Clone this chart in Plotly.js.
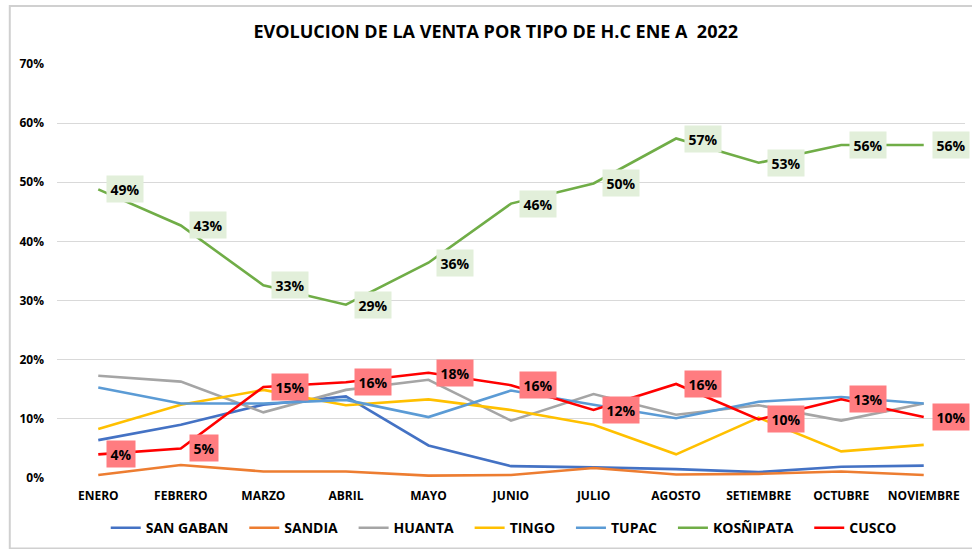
<!DOCTYPE html>
<html>
<head>
<meta charset="utf-8">
<script src="https://cdn.plot.ly/plotly-3.0.1.min.js"></script>
<style>html,body{margin:0;padding:0;background:#fff;}#chart{width:972px;height:549px;}</style>
</head>
<body>
<div id="chart"></div>
<script>
const months = ["ENERO","FEBRERO","MARZO","ABRIL","MAYO","JUNIO","JULIO","AGOSTO","SETIEMBRE","OCTUBRE","NOVIEMBRE"];
const sanGaban  = [0.064,0.090,0.124,0.138,0.055,0.020,0.018,0.015,0.010,0.019,0.021];
const sandia    = [0.005,0.022,0.011,0.011,0.004,0.005,0.017,0.006,0.007,0.011,0.005];
const huanta    = [0.173,0.163,0.111,0.149,0.166,0.097,0.142,0.107,0.123,0.097,0.126];
const tingo     = [0.083,0.124,0.149,0.123,0.133,0.115,0.090,0.040,0.102,0.045,0.056];
const tupac     = [0.153,0.126,0.126,0.132,0.103,0.148,0.124,0.101,0.129,0.137,0.126];
const kosnipata = [0.488,0.427,0.326,0.293,0.364,0.464,0.498,0.574,0.533,0.563,0.563];
const cusco     = [0.040,0.050,0.154,0.162,0.178,0.157,0.115,0.159,0.099,0.133,0.103];
const seriesNames = ["SAN GABAN","SANDIA","HUANTA","TINGO","TUPAC","KOSÑIPATA","CUSCO"];
const seriesData = [sanGaban,sandia,huanta,tingo,tupac,kosnipata,cusco];
const colors = ["#4472C4","#ED7D31","#A5A5A5","#FFC000","#5B9BD5","#70AD47","#FF0000"];
const yTicks = [0,0.1,0.2,0.3,0.4,0.5,0.6,0.7];

const FONT = "Open Sans, sans-serif";
const PAD = "\u00A0\u00A0\u00A0";

const traces = seriesNames.map((n,i)=>({
  type:"scatter", mode:"lines", name:(i<seriesNames.length-1 ? n+PAD : n), x:months, y:seriesData[i],
  line:{color:colors[i], width:2.6}, hoverinfo:"skip"
}));

function labels(vals, bg){
  return vals.map((v,i)=>({
    x:months[i], y:v, xref:"x", yref:"y",
    text:"<b>"+Math.round(v*100)+"%</b>", showarrow:false,
    xanchor:"left", yanchor:"middle", xshift:8,
    bgcolor:bg, borderpad:3.5,
    font:{family:FONT, size:14, color:"#000"}
  }));
}

const layout = {
  width:972, height:549,
  margin:{l:57, r:7, t:64, b:71, autoexpand:false},
  paper_bgcolor:"#fff", plot_bgcolor:"#fff",
  title:{text:"<b>EVOLUCION DE LA VENTA POR TIPO DE H.C ENE A  2022</b>", x:0.51, xanchor:"center", y:0.942, yanchor:"middle",
    font:{family:FONT, size:18, color:"#000"}},
  xaxis:{type:"category", range:[-0.5,10.5], showgrid:false, zeroline:false, showline:false, ticks:"",
    tickfont:{family:FONT, size:12, color:"#000", weight:"bold"}, ticklabelstandoff:9},
  yaxis:{range:[0,0.7], tickvals:yTicks, tickformat:".0%", showgrid:true, gridcolor:"#D9D9D9", gridwidth:1,
    zeroline:false, showline:false, ticks:"", tickfont:{family:FONT, size:12, color:"#000", weight:"bold"}, ticklabelstandoff:12},
  showlegend:true,
  legend:{orientation:"h", x:0.492, xanchor:"center", y:-0.121, yanchor:"middle",
    font:{family:FONT, size:14, color:"#000", weight:"bold"}, itemwidth:30, tracegroupgap:0},
  annotations:[...labels(kosnipata,"#E2EFDA"), ...labels(cusco,"#FF7C80")],
  shapes:[{type:"rect", xref:"paper", yref:"paper", x0:-0.052, x1:1.02, y0:-0.17, y1:1.14,
    line:{color:"#D0D0D0", width:2}, fillcolor:"rgba(0,0,0,0)", layer:"above"}]
};
Plotly.newPlot("chart", traces, layout, {displayModeBar:false, staticPlot:true});
</script>
</body>
</html>
